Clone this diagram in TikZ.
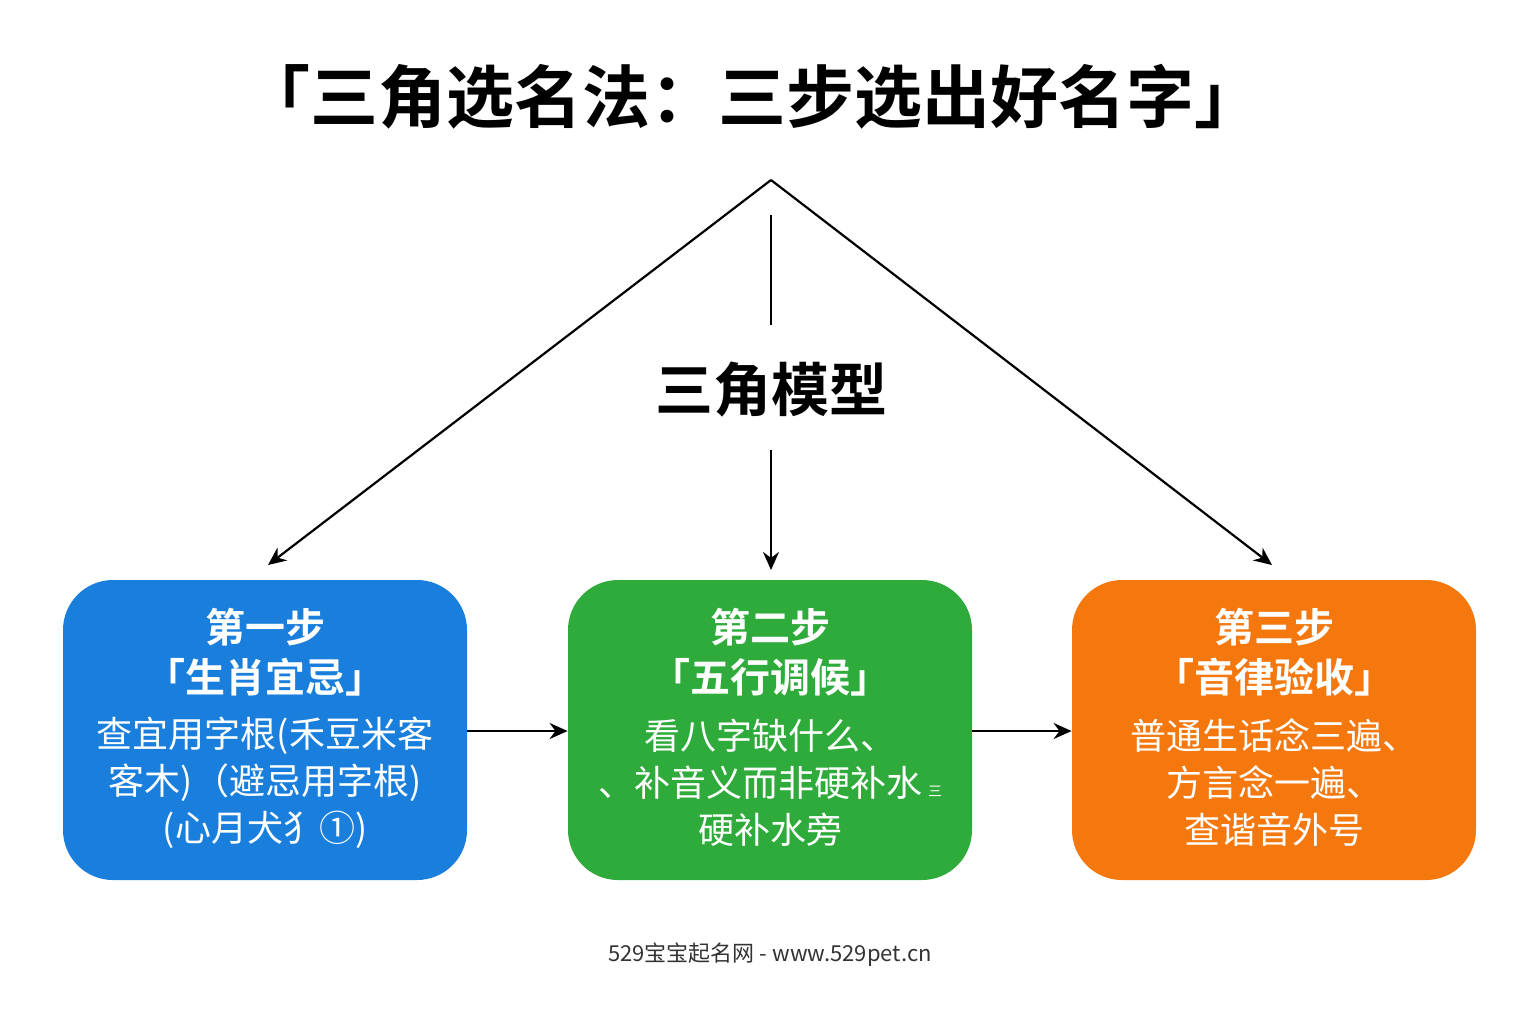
\documentclass[tikz,border=0pt]{standalone}
\usepackage{fontspec}
\setmainfont{Noto Sans CJK SC}
\newfontfamily\cjkb{Noto Sans CJK SC Bold}
\usetikzlibrary{arrows.meta}
\definecolor{cblue}{HTML}{1A7FDC}
\definecolor{cgreen}{HTML}{2EAB3A}
\definecolor{corange}{HTML}{F5780F}
\begin{document}
\begin{tikzpicture}[x=0.5pt,y=-0.5pt,
  box/.style={rounded corners=25pt,minimum width=202pt,minimum height=150pt,inner sep=0pt},
  hd/.style={text=white,align=center,font=\cjkb\fontsize{20}{25}\selectfont},
  bd/.style={text=white,align=center,font=\fontsize{18}{23.5}\selectfont},
  arr/.style={-{Stealth[length=9pt,width=8pt]},line width=1.1pt},
  ln/.style={line width=1.1pt}]
\useasboundingbox (0,0) rectangle (1536,1024);
\fill[white] (0,0) rectangle (1536,1024);
\node[font=\cjkb\fontsize{34}{40}\selectfont] (title) at (752,97) {「三角选名法：三步选出好名字」};
\coordinate (apex) at (771,180);
\coordinate (lt) at (268,565);
\coordinate (rt) at (1272,565);
\coordinate (vt) at (771,215);
\coordinate (vb) at (771,325);
\coordinate (ms) at (771,450);
\coordinate (me) at (771,570);
\node[font=\cjkb\fontsize{29}{34}\selectfont] (model) at (771,390) {三角模型};
\draw[arr] (apex) -- (lt);
\draw[arr] (apex) -- (rt);
\draw[ln] (vt) -- (vb);
\draw[arr] (ms) -- (me);
\node[box,fill=cblue] (b1) at (265,730) {};
\node[box,fill=cgreen] (b2) at (770,730) {};
\node[box,fill=corange] (b3) at (1274,730) {};
\node[hd] (h1) at (265,652) {第一步\\「生肖宜忌」};
\node[bd] (t1) at (265,783) {查宜用字根(禾豆米客\\客木)（避忌用字根)\\(心月犬犭①)};
\node[hd] (h2) at (770,652) {第二步\\「五行调候」};
\node[bd] (t2) at (770,783) {看八字缺什么、\\、补音义而非硬补水\,{\fontsize{7}{8}\selectfont 三}\\硬补水旁};
\node[hd] (h3) at (1274,652) {第三步\\「音律验收」};
\node[bd] (t3) at (1274,783) {普通生话念三遍、\\方言念一遍、\\查谐音外号};
\draw[arr] (b1.east |- 0,731) -- (b2.west |- 0,731);
\draw[arr] (b2.east |- 0,731) -- (b3.west |- 0,731);
\node[font=\fontsize{11}{13}\selectfont,text=black!80] (foot) at (770,955) {529宝宝起名网 - www.529pet.cn};
\end{tikzpicture}
\end{document}
